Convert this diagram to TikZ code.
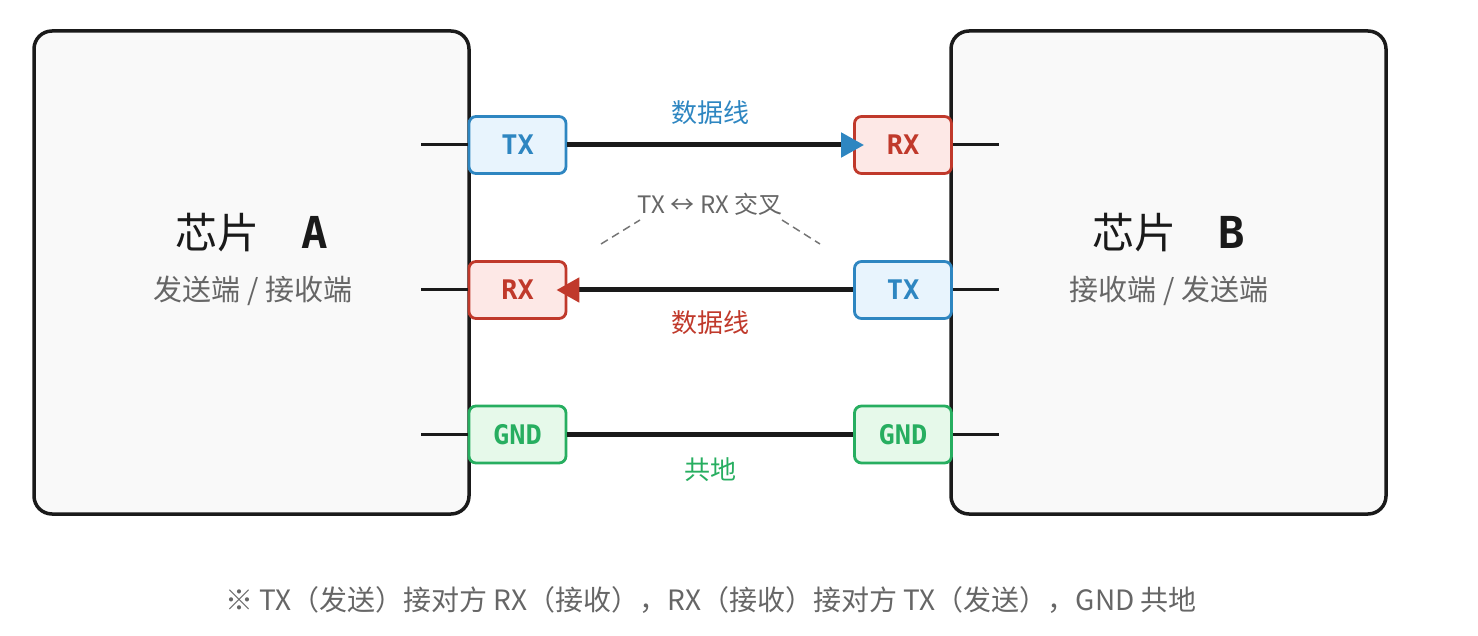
\documentclass[tikz,border=0pt]{standalone}
\usepackage{fontspec}
\setmainfont{Noto Sans CJK SC}
\newfontfamily\cjk{Noto Sans CJK SC}
\newfontfamily\pinfont{DejaVu Sans Mono}
\usetikzlibrary{arrows.meta}
\definecolor{cblue}{HTML}{2E86C1}
\definecolor{cbluef}{HTML}{E8F4FD}
\definecolor{cred}{HTML}{C0392B}
\definecolor{credf}{HTML}{FDE8E6}
\definecolor{cgreen}{HTML}{27AE60}
\definecolor{cgreenf}{HTML}{E6F9EA}
\definecolor{cdark}{HTML}{1A1A1A}
\definecolor{cgray}{HTML}{666666}
\definecolor{cchip}{HTML}{F9F9F9}
\tikzset{
  chip/.style={draw=cdark, fill=cchip, line width=3.5pt, rounded corners=18pt, minimum width=435pt, minimum height=483pt, inner sep=0pt},
  pin/.style={line width=2.8pt, rounded corners=7pt, minimum width=97pt, minimum height=57pt, inner sep=0pt, font=\pinfont\bfseries\fontsize{27}{27}\selectfont},
  bluepin/.style={pin, draw=cblue, fill=cbluef, text=cblue},
  redpin/.style={pin, draw=cred, fill=credf, text=cred},
  greenpin/.style={pin, draw=cgreen, fill=cgreenf, text=cgreen},
  stub/.style={draw=cdark, line width=3pt},
  wire/.style={draw=cdark, line width=5pt},
  lbl/.style={font=\cjk\fontsize{26}{26}\selectfont, inner sep=0pt},
  guide/.style={draw=cgray!90, line width=1.5pt, dash pattern=on 8pt off 5pt},
  title/.style={font=\cjk\fontsize{42}{42}\selectfont, text=cdark, inner sep=0pt},
  sub/.style={font=\cjk\fontsize{29}{29}\selectfont, text=cgray, inner sep=0pt},
}
\begin{document}
\begin{tikzpicture}[x=1pt,y=-1pt]
\useasboundingbox (0,0) rectangle (1478,636);
% chips
\node[chip] (chipA) at (251.5,272.5) {};
\node[chip] (chipB) at (1168.5,272.5) {};
\node[title] (titleA) at (252,233) {芯片\hspace{1em}{\pinfont\bfseries\fontsize{44}{44}\selectfont A}};
\node[title] (titleB) at (1169,233) {芯片\hspace{1em}{\pinfont\bfseries\fontsize{44}{44}\selectfont B}};
\node[sub] (subA) at (253,291) {发送端 / 接收端};
\node[sub] (subB) at (1169,291) {接收端 / 发送端};
% pins
\node[bluepin] (txA) at (517.5,145) {TX};
\node[redpin] (rxA) at (517.5,290) {RX};
\node[greenpin] (gndA) at (517.5,434.5) {GND};
\node[redpin] (rxB) at (903,145) {RX};
\node[bluepin] (txB) at (903,290) {TX};
\node[greenpin] (gndB) at (903,434.5) {GND};
% stubs
\coordinate (sA1) at (421,145);
\coordinate (sA2) at (421,290);
\coordinate (sA3) at (421,434.5);
\coordinate (sB1) at (999,145);
\coordinate (sB2) at (999,290);
\coordinate (sB3) at (999,434.5);
\draw[stub] (sA1) -- (txA.west);
\draw[stub] (sA2) -- (rxA.west);
\draw[stub] (sA3) -- (gndA.west);
\draw[stub] (rxB.east) -- (sB1);
\draw[stub] (txB.east) -- (sB2);
\draw[stub] (gndB.east) -- (sB3);
% wires
\draw[wire, shorten >=-11pt, -{Triangle[length=23pt,width=24pt,color=cblue]}] (txA.east) -- (rxB.west);
\draw[wire, shorten >=-11pt, -{Triangle[length=23pt,width=24pt,color=cred]}] (txB.west) -- (rxA.east);
\draw[wire] (gndA.east) -- (gndB.west);
% labels
\node[lbl, text=cblue] (l1) at (710,113) {数据线};
\node[lbl, text=cred] (l2) at (710,323) {数据线};
\node[lbl, text=cgreen] (l3) at (710,470) {共地};
\node[lbl, text=cgray, font=\cjk\fontsize{24}{24}\selectfont] (cross) at (710,204) {TX ↔ RX 交叉};
\coordinate (d1a) at (601,244);
\coordinate (d1b) at (640,220);
\coordinate (d2a) at (782,220);
\coordinate (d2b) at (820,244);
\draw[guide] (d1a) -- (d1b);
\draw[guide] (d2a) -- (d2b);
% caption
\node[font=\cjk\fontsize{28}{28}\selectfont, text=cgray, inner sep=0pt] (cap) at (711,600) {※ TX（发送）接对方 RX（接收），RX（接收）接对方 TX（发送），GND 共地};
\end{tikzpicture}
\end{document}
